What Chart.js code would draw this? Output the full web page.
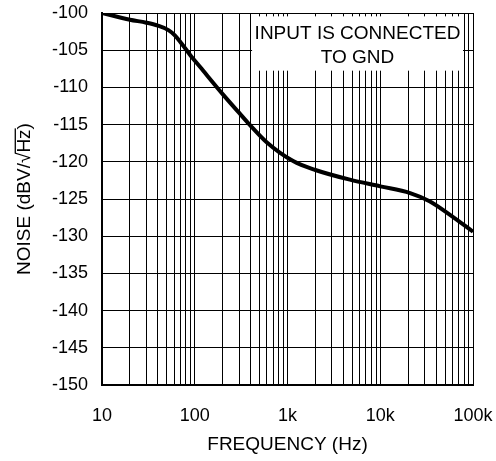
<!DOCTYPE html>
<html>
<head>
<meta charset="utf-8">
<script src="https://cdn.jsdelivr.net/npm/chart.js@4"></script>
<style>
  html, body { margin: 0; padding: 0; background: #fff; }
  #wrap { width: 496px; height: 461px; }
</style>
</head>
<body>
<div id="wrap"><canvas id="noiseChart" width="496" height="461"></canvas></div>
<script>
// values
const freqHz = [10, 20, 30, 40, 52, 61, 72, 90, 115, 200, 300, 390, 600, 1150, 2000, 4700, 10000, 21000, 34000, 56000, 100000];
const noiseDb = [-100, -100.9, -101.3, -101.7, -102.3, -103.0, -104.1, -105.7, -107.3, -110.9, -113.4, -115.0, -117.4, -119.9, -121.1, -122.4, -123.3, -124.2, -125.3, -127.1, -129.4];

const xDecades = [10, 100, 1000, 10000, 100000];
const xTickLabels = ['10', '100', '1k', '10k', '100k'];
const yMin = -150, yMax = -100, yStep = 5;

const noteLines = ['INPUT IS CONNECTED', 'TO GND'];
const yTitle = 'NOISE (dBV/\u221AHz)';
const xTitle = 'FREQUENCY (Hz)';

const FONT = "'Liberation Sans', Arial, sans-serif";

// white label box sitting over the grid, top right
const noteBox = {
  id: 'noteBox',
  beforeDatasetsDraw(chart) {
    const { ctx, scales: { x, y } } = chart;
    const l = x.getPixelForValue(415), r = x.getPixelForValue(78000);
    const t = y.getPixelForValue(-100.45), b = y.getPixelForValue(-107.75);
    ctx.save();
    ctx.fillStyle = '#fff';
    ctx.fillRect(l, t, r - l, b - t);
    ctx.fillStyle = '#000';
    ctx.font = '19px ' + FONT;
    ctx.textAlign = 'center';
    ctx.textBaseline = 'middle';
    const cx = (l + r) / 2;
    ctx.fillText(noteLines[0], cx, t + 17);
    ctx.fillText(noteLines[1], cx, t + 41);
    ctx.restore();
  }
};

// bar over "Hz" for the square root in the y title
const rootBar = {
  id: 'rootBar',
  afterDraw(chart) {
    const { ctx } = chart;
    const sc = chart.scales.y;
    const opt = sc.options.title;
    const lh = opt.font.size * 1.2;
    const tx = sc.left + opt.padding.top + lh / 2;
    const ty = (sc.top + sc.bottom) / 2;
    ctx.save();
    ctx.font = opt.font.size + 'px ' + FONT;
    ctx.textBaseline = 'middle';
    const full = ctx.measureText(yTitle).width;
    const pre = ctx.measureText(yTitle.slice(0, yTitle.indexOf('Hz'))).width;
    const hz = ctx.measureText('Hz').width;
    const up = ctx.measureText('\u221A').actualBoundingBoxAscent;
    ctx.translate(tx, ty);
    ctx.rotate(-Math.PI / 2);
    ctx.fillStyle = '#000';
    ctx.fillRect(-full / 2 + pre - 1, -up, hz + 2, 1.3);
    ctx.restore();
  }
};

new Chart(document.getElementById('noiseChart'), {
  type: 'line',
  data: {
    datasets: [{
      data: freqHz.map((f, i) => ({ x: f, y: noiseDb[i] })),
      borderColor: '#000',
      borderWidth: 4,
      pointRadius: 0,
      cubicInterpolationMode: 'monotone',
      fill: false,
    }],
  },
  options: {
    responsive: false,
    animation: false,
    events: [],
    layout: { padding: { top: 13, right: 23, left: 0, bottom: 0 } },
    plugins: { legend: { display: false }, tooltip: { enabled: false } },
    scales: {
      x: {
        type: 'logarithmic',
        min: 10,
        max: 100000,
        afterBuildTicks(scale) {
          const ticks = [];
          xDecades.slice(0, -1).forEach(d => {
            for (let m = 1; m < 10; m++) ticks.push({ value: d * m });
          });
          ticks.push({ value: 100000 });
          scale.ticks = ticks;
        },
        afterFit(scale) {
          scale.height = 76;
          scale.paddingLeft = 0;
          scale.paddingRight = 0;
        },
        grid: { color: '#000', lineWidth: 1, drawTicks: false },
        border: { color: '#000', width: 2 },
        ticks: {
          autoSkip: false,
          maxRotation: 0,
          padding: 20,
          color: '#000',
          font: { family: FONT, size: 18 },
          callback: (v) => {
            const k = xDecades.indexOf(v);
            return k >= 0 ? xTickLabels[k] : '';
          },
        },
        title: {
          display: true,
          text: xTitle,
          color: '#000',
          font: { family: FONT, size: 19 },
          padding: { top: 0, bottom: 5 },
        },
      },
      y: {
        min: yMin,
        max: yMax,
        afterFit(scale) {
          scale.width = 102;
          scale.paddingTop = 0;
          scale.paddingBottom = 0;
        },
        grid: { color: '#000', lineWidth: 1, drawTicks: false },
        border: { color: '#000', width: 2 },
        ticks: {
          stepSize: yStep,
          padding: 14,
          color: '#000',
          font: { family: FONT, size: 18 },
        },
        title: {
          display: true,
          text: yTitle,
          color: '#000',
          font: { family: FONT, size: 19 },
          padding: { top: 13, bottom: 0 },
        },
      },
    },
  },
  plugins: [noteBox, rootBar],
});
</script>
</body>
</html>
